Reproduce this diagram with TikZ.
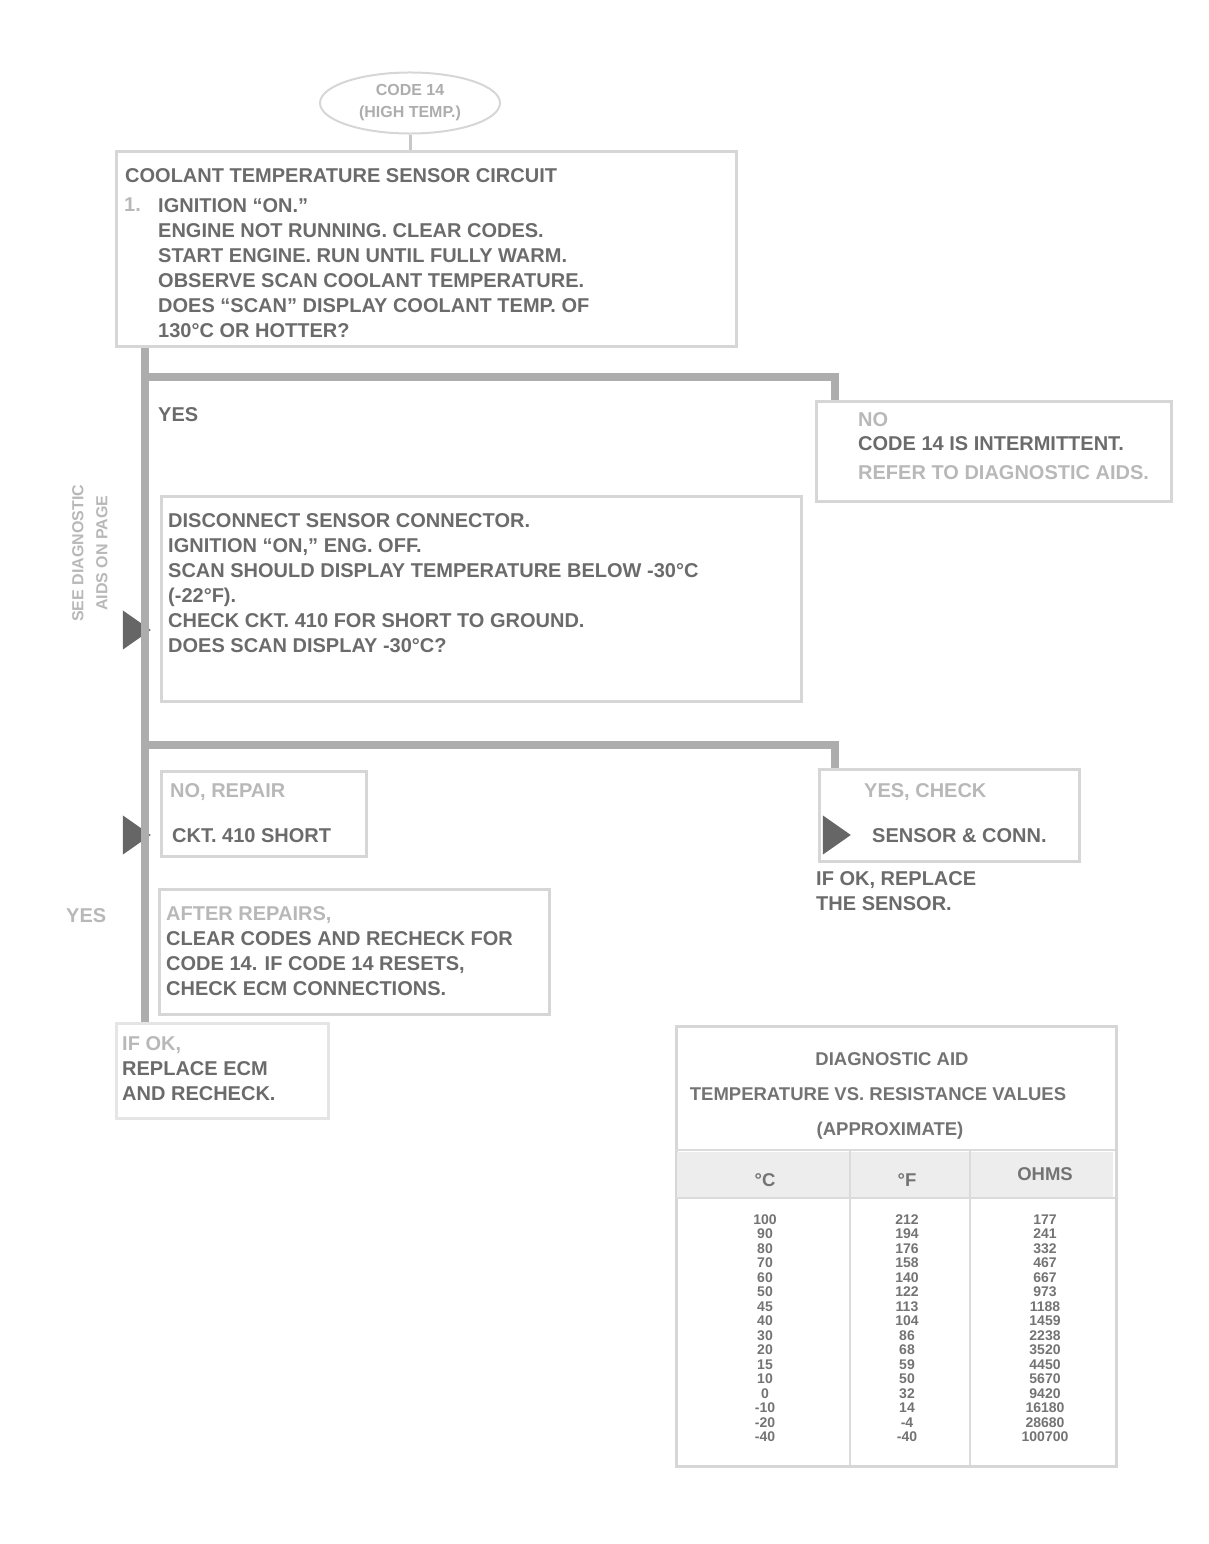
\documentclass[tikz,border=0pt]{standalone}
\usepackage{fontspec}
\setmainfont{Liberation Sans}
\usetikzlibrary{shapes.geometric,calc}
\begin{document}
\begin{tikzpicture}[x=1pt,y=-1pt,
  boxst/.style={draw=black!16, line width=3pt, inner sep=0pt, anchor=north west},
  link/.style={draw=black!32, line width=8pt},
  thinlink/.style={draw=black!22, line width=3pt},
  txt/.style={anchor=north west, inner sep=0pt, align=left, text=black!58, font=\fontsize{20}{25}\selectfont\bfseries},
  ltxt/.style={txt, text=black!28},
  pointer/.style={isosceles triangle, isosceles triangle apex angle=70, fill=black!60, inner sep=0pt, minimum width=30pt, minimum height=28pt},
  tcell/.style={anchor=center, inner sep=0pt, text=black!55, font=\fontsize{14}{15}\selectfont\bfseries},
  thead/.style={anchor=center, inner sep=0pt, text=black!55, font=\fontsize{18.5}{22}\selectfont\bfseries},
  tline/.style={draw=black!14, line width=2.5pt}
]
\useasboundingbox (0,0) rectangle (1208,1544);

% ---------- title
\node[ellipse, draw=black!16, line width=2pt, minimum width=180pt, minimum height=60pt, align=center,
      text=black!32, font=\fontsize{16}{22}\selectfont\bfseries] (T) at (410,103) {CODE 14\\(HIGH TEMP.)};

% ---------- box 1
\node[boxst, minimum width=620pt, minimum height=195pt] (B1) at (115,150) {};
\node[txt] (B1h) at (125,168) {COOLANT TEMPERATURE SENSOR CIRCUIT};
\node[ltxt] (B1n) at (124,198) {1.};
\node[txt] (B1t) at (158,198) {IGNITION ``ON.''\\
ENGINE NOT RUNNING. CLEAR CODES.\\
START ENGINE. RUN UNTIL FULLY WARM.\\
OBSERVE SCAN COOLANT TEMPERATURE.\\
DOES ``SCAN'' DISPLAY COOLANT TEMP. OF\\
130\textdegree C OR HOTTER?};
\draw[thinlink] (T.south) -- (T.south |- B1.north);

% ---------- junctions
\coordinate (j1) at (145,377);
\coordinate (c1) at (835,377);
\coordinate (j2) at (145,745);
\coordinate (c2) at (835,745);

% ---------- right box 1
\node[boxst, minimum width=355pt, minimum height=100pt] (R1) at (815,400) {};
\node[ltxt] (R1a) at (858,412) {NO};
\node[txt] (R1b) at (858,436) {CODE 14 IS INTERMITTENT.};
\node[ltxt] (R1c) at (858,465) {REFER TO DIAGNOSTIC AIDS.};

\node[txt] (L1) at (158,407) {YES};

% ---------- box 2
\node[boxst, minimum width=640pt, minimum height=205pt] (B2) at (160,495) {};
\node[txt] (B2t) at (168,513) {DISCONNECT SENSOR CONNECTOR.\\
IGNITION ``ON,'' ENG. OFF.\\
SCAN SHOULD DISPLAY TEMPERATURE BELOW -30\textdegree C\\
(-22\textdegree F).\\
CHECK CKT. 410 FOR SHORT TO GROUND.\\
DOES SCAN DISPLAY -30\textdegree C?};
\node[pointer] (P1) at (133,630) {};
\node[ltxt, rotate=90, align=center, font=\fontsize{16}{24}\selectfont\bfseries] (N1) at (72,622) {SEE DIAGNOSTIC\\AIDS ON PAGE};

% ---------- branch boxes
\node[boxst, minimum width=205pt, minimum height=85pt] (B3) at (160,770) {};
\node[ltxt] (B3a) at (170,783) {NO, REPAIR};
\node[txt] (B3b) at (172,828) {CKT. 410 SHORT};
\node[pointer] (P2) at (133,835) {};

\node[boxst, minimum width=260pt, minimum height=92pt] (R2) at (818,768) {};
\node[ltxt] (R2a) at (864,783) {YES, CHECK};
\node[txt] (R2b) at (872,828) {SENSOR \& CONN.};
\node[txt] (R2c) at (816,871) {IF OK, REPLACE\\THE SENSOR.};
\node[pointer] (P3) at (833,835) {};

% ---------- box 4
\node[boxst, minimum width=390pt, minimum height=125pt] (B4) at (158,888) {};
\node[ltxt] (B4a) at (166,906) {AFTER REPAIRS,};
\node[txt] (B4b) at (166,931) {CLEAR CODES AND RECHECK FOR\\
CODE 14. IF CODE 14 RESETS,\\
CHECK ECM CONNECTIONS.};
\node[ltxt] (L2) at (66,908) {YES};

% ---------- final
\node[boxst, draw=black!10, minimum width=212pt, minimum height=95pt] (F) at (115,1022) {};
\node[ltxt] (Fa) at (122,1036) {IF OK,};
\node[txt] (Fb) at (122,1061) {REPLACE ECM\\AND RECHECK.};

% ---------- connectors
\draw[link] (j1 |- B1.south) -- (j1) -- (j2) -- (j1 |- F.north);
\draw[link] (j1) -- (c1) -- (c1 |- R1.north);
\draw[link] (j2) -- (c2) -- (c2 |- R2.north);

% ---------- table
\node[boxst, minimum width=440pt, minimum height=440pt] (TB) at (675,1025) {};
\node[thead] (H1) at (892,1059) {DIAGNOSTIC AID};
\node[thead] (H2) at (878,1094) {TEMPERATURE VS. RESISTANCE VALUES};
\node[thead] (H3) at (890,1131) {(APPROXIMATE)};
\fill[black!7] (677,1152) rectangle (1113,1197);
\draw[tline] (675,1150) -- (1115,1150);
\draw[tline] (675,1198) -- (1115,1198);
\draw[tline] (850,1150) -- (850,1465);
\draw[tline] (970,1150) -- (970,1465);
\node[thead] (HC) at (765,1180) {\textdegree C};
\node[thead] (HF) at (907,1180) {\textdegree F};
\node[thead] (HO) at (1045,1174) {OHMS};
\foreach \c/\f/\o [count=\i] in {100/212/177,90/194/241,80/176/332,70/158/467,60/140/667,50/122/973,45/113/1188,40/104/1459,30/86/2238,20/68/3520,15/59/4450,10/50/5670,0/32/9420,-10/14/16180,-20/-4/28680,-40/-40/100700}{
  \node[tcell] (tc\i) at (765,1205+\i*14.5) {\c};
  \node[tcell] (tf\i) at (907,1205+\i*14.5) {\f};
  \node[tcell] (to\i) at (1045,1205+\i*14.5) {\o};
}
\end{tikzpicture}
\end{document}
